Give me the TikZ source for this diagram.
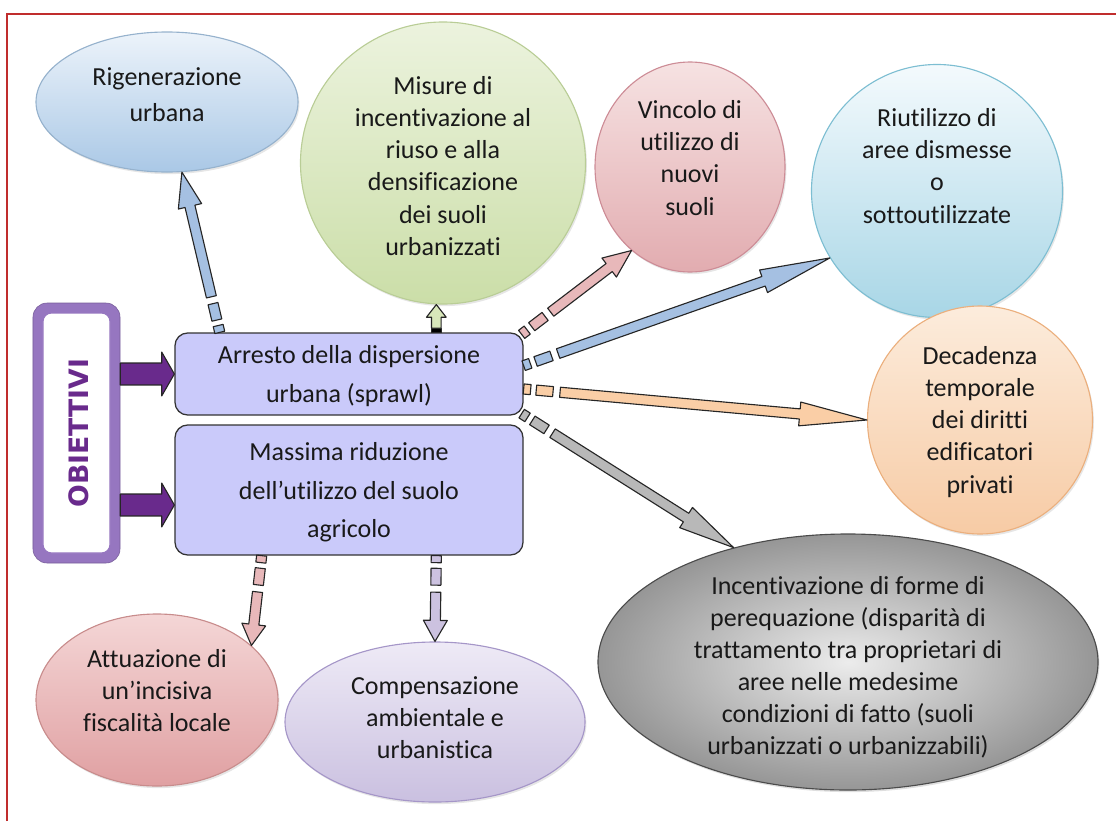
\documentclass[tikz,border=0pt]{standalone}
\usepackage{fontspec}
\setmainfont{Carlito}[Ligatures={TeX,NoCommon}]
\newfontfamily\obifont{DejaVu Sans}
\usetikzlibrary{calc,shapes.geometric,shadows}

\definecolor{framered}{RGB}{192,45,45}
\definecolor{goalfill}{RGB}{202,202,250}
\definecolor{obipurple}{RGB}{105,42,140}
\definecolor{obiring}{RGB}{150,118,192}
\definecolor{rigtop}{RGB}{236,243,250}\definecolor{rigbot}{RGB}{170,200,230}\definecolor{rigline}{RGB}{150,178,205}
\definecolor{mistop}{RGB}{236,243,222}\definecolor{misbot}{RGB}{203,222,168}\definecolor{misline}{RGB}{185,205,150}
\definecolor{vintop}{RGB}{246,226,226}\definecolor{vinbot}{RGB}{226,172,176}\definecolor{vinline}{RGB}{205,140,150}
\definecolor{riutop}{RGB}{244,250,253}\definecolor{riubot}{RGB}{168,214,230}\definecolor{riuline}{RGB}{125,190,210}
\definecolor{dectop}{RGB}{252,236,220}\definecolor{decbot}{RGB}{247,203,165}\definecolor{decline}{RGB}{235,175,125}
\definecolor{atttop}{RGB}{244,214,214}\definecolor{attbot}{RGB}{224,160,162}\definecolor{attline}{RGB}{200,140,140}
\definecolor{comptop}{RGB}{238,234,246}\definecolor{compbot}{RGB}{202,192,224}\definecolor{compline}{RGB}{165,150,200}
\definecolor{incin}{RGB}{236,236,236}\definecolor{incout}{RGB}{150,150,150}\definecolor{incline}{RGB}{75,75,75}
\definecolor{arrblue}{RGB}{165,192,226}
\definecolor{arrgreen}{RGB}{216,231,186}
\definecolor{arrpink}{RGB}{232,184,186}
\definecolor{arrorange}{RGB}{250,206,166}
\definecolor{arrgray}{RGB}{184,184,184}
\definecolor{arrlav}{RGB}{204,194,224}

\newcommand{\txtfont}{\fontsize{18.5pt}{22.8pt}\selectfont}
\newcommand{\boxfont}{\fontsize{18.5pt}{27.5pt}\selectfont}
\newcommand{\obifnt}{\obifont\bfseries\fontsize{19pt}{20pt}\selectfont}
\newcommand{\shw}{3.6pt}
\newcommand{\hhw}{8.5pt}

% one piece of a broken arrow tail: from, to, start, end, fill
\newcommand{\piece}[5]{%
  \draw[arrowline, fill=#5] ($(#1)!#3!(#2)!\shw!90:(#2)$) -- ($(#1)!#4!(#2)!\shw!90:(#2)$)
    -- ($(#1)!#4!(#2)!\shw!-90:(#2)$) -- ($(#1)!#3!(#2)!\shw!-90:(#2)$) -- cycle;}
% block arrow: from, to, fill, start, shaft half width, head half width, head length
\newcommand{\fatarrow}[7]{%
  \draw[arrowline, fill=#3] ($(#1)!#4!(#2)!#5!90:(#2)$) -- ($(#2)!#7!(#1)!#5!-90:(#1)$)
    -- ($(#2)!#7!(#1)!#6!-90:(#1)$) -- (#2) -- ($(#2)!#7!(#1)!#6!90:(#1)$)
    -- ($(#2)!#7!(#1)!#5!90:(#1)$) -- ($(#1)!#4!(#2)!#5!-90:(#2)$) -- cycle;}
% block arrow with the broken tail
\newcommand{\tailarrow}[4]{%
  \piece{#1}{#2}{0pt}{5pt}{#3}
  \piece{#1}{#2}{9pt}{21pt}{#3}
  \fatarrow{#1}{#2}{#3}{26pt}{\shw}{\hhw}{#4}}

\tikzset{
  bubble/.style={ellipse, draw=#1line, line width=0.8pt, top color=#1top, bottom color=#1bot,
    inner sep=0pt, drop shadow={opacity=0.2, shadow xshift=1pt, shadow yshift=-1.5pt}},
  txt/.style={align=center, font=\txtfont, text=black!90, inner sep=0pt},
  goal/.style={rectangle, rounded corners=9pt, draw=black!80, line width=0.9pt, fill=goalfill,
    minimum width=87mm, align=center, font=\boxfont, text=black!90, text depth=0pt},
  arrowline/.style={draw=black!85, line width=0.8pt, line join=round},
}

\begin{document}
\begin{tikzpicture}[x=0.25mm, y=-0.25mm]
  \useasboundingbox (0,0) rectangle (1116,821);
  \draw[framered, line width=1.6pt] (7,821) -- (7,14) -- (1116,14);

  % objectives
  \node[goal, minimum height=20.5mm] (arr) at (349,374) {Arresto della dispersione\\urbana (sprawl)};
  \node[goal, minimum height=32.5mm] (mas) at (349,490) {Massima riduzione\\dell'utilizzo del suolo\\agricolo};

  \node[draw=obiring!80!black, fill=obiring, rounded corners=10pt, minimum width=21.75mm, minimum height=65mm] (obi) at (76.5,433) {};
  \node[draw=obiring, line width=0.8pt, fill=white, rounded corners=6pt, minimum width=16.75mm, minimum height=60mm] (obi-in) at (obi) {};
  \node[rotate=90, font=\obifnt, text=obipurple] (obi-t) at (79,433) {OBIETTIVI};

  % measures
  \node[bubble=rig, minimum width=65.5mm, minimum height=35mm] (rig) at (167,102) {};
  \node[txt, font=\fontsize{18.5pt}{25.5pt}\selectfont] (rig-t) at (167,95) {Rigenerazione\\urbana};
  \node[bubble=mis, minimum width=71.25mm, minimum height=70.5mm] (mis) at (443,163) {};
  \node[txt] (mis-t) at (443,166) {Misure di\\incentivazione al\\riuso e alla\\densificazione\\dei suoli\\urbanizzati};
  \node[bubble=vin, minimum width=47.5mm, minimum height=52.5mm] (vin) at (690,167) {};
  \node[txt] (vin-t) at (690,158) {Vincolo di\\utilizzo di\\nuovi\\suoli};
  \node[bubble=riu, minimum width=62.75mm, minimum height=63.25mm] (riu) at (937,191) {};
  \node[txt] (riu-t) at (937,166) {Riutilizzo di\\aree dismesse\\o\\sottoutilizzate};
  \node[bubble=dec, minimum width=56.25mm, minimum height=57mm] (dec) at (980,420) {};
  \node[txt] (dec-t) at (980,422) {Decadenza\\temporale\\dei diritti\\edificatori\\privati};
  \node[ellipse, draw=incline, line width=0.8pt, inner color=incin, outer color=incout, inner sep=0pt,
    drop shadow={opacity=0.25, shadow xshift=1pt, shadow yshift=-1.5pt},
    minimum width=125mm, minimum height=64mm] (inc) at (848,662) {};
  \node[txt] (inc-t) at (848,667) {Incentivazione di forme di\\perequazione (disparità di\\trattamento tra proprietari di\\aree nelle medesime\\condizioni di fatto (suoli\\urbanizzati o urbanizzabili)};
  \node[bubble=att, minimum width=60.5mm, minimum height=43mm] (att) at (157,700) {};
  \node[txt] (att-t) at (157,691) {Attuazione di\\un'incisiva\\fiscalità locale};
  \node[bubble=comp, minimum width=75mm, minimum height=40mm] (comp) at (435,722) {};
  \node[txt] (comp-t) at (435,718) {Compensazione\\ambientale e\\urbanistica};

  % arrow ends
  \coordinate (a-rig) at ($(arr.north west)!0.13!(arr.north east)$);
  \coordinate (a-mis) at ($(arr.north west)!0.75!(arr.north east)$);
  \coordinate (a-vin) at ($(arr.north east)+(-2,2)$);
  \coordinate (a-riu) at ($(arr.north east)!0.4!(arr.south east)$);
  \coordinate (a-dec) at ($(arr.north east)!0.68!(arr.south east)$);
  \coordinate (a-inc) at ($(arr.south east)+(-2,-2)$);
  \coordinate (a-att) at ($(mas.south west)!0.25!(mas.south east)$);
  \coordinate (a-comp) at ($(mas.south west)!0.75!(mas.south east)$);
  \coordinate (b-mis) at (a-mis |- mis.south);
  \coordinate (b-p2) at ($(mas.west)+(0,15)$);
  \coordinate (a-p1) at (obi.east |- arr.west);
  \coordinate (a-p2) at (obi.east |- b-p2);

  \tailarrow{a-rig}{rig.-78}{arrblue}{25pt}
  \tailarrow{a-vin}{vin.-125}{arrpink}{20pt}
  \tailarrow{a-riu}{riu.-148}{arrblue}{50pt}
  \tailarrow{a-dec}{dec.west}{arrorange}{48pt}
  \tailarrow{a-inc}{inc.135}{arrgray}{40pt}
  \tailarrow{a-att}{att.30}{arrpink}{15pt}
  \tailarrow{a-comp}{comp.north}{arrlav}{15pt}

  \piece{a-mis}{b-mis}{0pt}{3pt}{black}
  \fatarrow{a-mis}{b-mis}{arrgreen}{3pt}{3.4pt}{7pt}{9pt}

  \fatarrow{a-p1}{arr.west}{obipurple}{0pt}{7.8pt}{15.6pt}{9pt}
  \fatarrow{a-p2}{b-p2}{obipurple}{0pt}{7.8pt}{15.6pt}{9pt}
\end{tikzpicture}
\end{document}
